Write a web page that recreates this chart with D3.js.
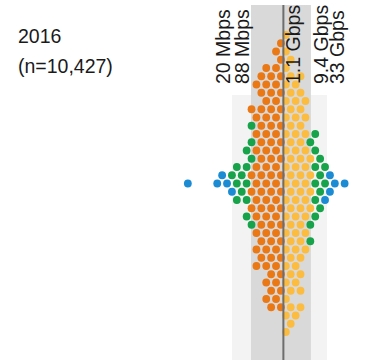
<!DOCTYPE html>
<html><head><meta charset="utf-8">
<script src="https://cdn.jsdelivr.net/npm/d3@7"></script>
<style>html,body{margin:0;padding:0;background:#fff;} svg{display:block;}</style>
</head><body><svg id="chart" width="365" height="360"></svg>
<script>
// ---- data ----
const yearLabel = "2016";
const sampleLabel = "(n=10,427)";
const thresholdValues = [20e6, 88e6, 1.1e9, 9.4e9, 33e9];
const thresholdLabels = ["20 Mbps", "88 Mbps", "1.1 Gbps", "9.4 Gbps", "33 Gbps"];
const groups = ["blueL", "greenL", "orange", "yellow", "greenR", "blueR"];
const groupNames = ["< 20 Mbps", "20–88 Mbps", "88 Mbps–1.1 Gbps", "1.1–9.4 Gbps", "9.4–33 Gbps", "> 33 Gbps"];
// dots per swarm row (top to bottom)
const rowOrange = [0,1,1,1,2,3,3,3,2,4,3,3,3,3,3,3,3,4,3,4,3,4,3,3,3,3,3,3,3,2,2,2,2,2,0,0,0];
const rowYellow = [1,0,1,1,1,2,2,2,3,2,3,2,3,2,3,3,3,3,3,3,3,3,3,2,3,2,3,2,2,2,2,2,1,2,2,1,1];
const rowGreenL = [0,0,0,0,0,0,0,0,0,0,0,1,0,1,1,1,2,2,2,1,2,0,1,1,0,0,0,0,0,0,0,0,0,0,0,0,0];
const rowGreenR = [0,0,0,0,0,0,0,0,0,0,0,0,1,1,1,1,2,1,2,1,1,1,1,1,0,1,0,0,0,0,0,0,0,0,0,0,0];
const rowBlueL  = [0,0,0,0,0,0,0,0,0,0,0,0,0,0,0,0,0,1,3,1,0,0,0,0,0,0,0,0,0,0,0,0,0,0,0,0,0];
const rowBlueR  = [0,0,0,0,0,0,0,0,0,0,0,0,0,0,0,0,0,1,2,1,1,0,0,0,0,0,0,0,0,0,0,0,0,0,0,0,0];
const rowGapL   = [0,0,0,0,0,0,0,0,0,0,0,0,0,0,0,0,0,0,2,0,0,0,0,0,0,0,0,0,0,0,0,0,0,0,0,0,0];

// ---- chart ----
const svg = d3.select("#chart");
const H = 360;
const x = d3.scaleLog().domain([thresholdValues[0], thresholdValues[4]]).range([232, 327]);
const med = x(thresholdValues[2]);
const slot = d3.scaleLinear().domain([0, 1]).range([med, med + 9.8]);
const y = d3.scaleLinear().domain([0, rowOrange.length - 1]).range([35, 332]);
const color = d3.scaleOrdinal().domain(groups)
  .range(["#1b8bd4", "#16a34a", "#ea7815", "#fcbc40", "#16a34a", "#1b8bd4"]);

// bands
svg.append("rect").attr("x", x(thresholdValues[0])).attr("y", 95)
  .attr("width", x(thresholdValues[4]) - x(thresholdValues[0])).attr("height", H - 95)
  .attr("fill", "#f3f3f3");
svg.append("rect").attr("x", x(thresholdValues[1])).attr("y", 5)
  .attr("width", x(thresholdValues[3]) - x(thresholdValues[1])).attr("height", H - 5)
  .attr("fill", "#d9d9d9");

// dots
const dots = [];
rowOrange.forEach((_, r) => {
  const par = r % 2 ? 0.5 : 0;
  let k = 0;
  const left = [];
  for (let i = 0; i < rowOrange[r]; i++) left.push("orange");
  for (let i = 0; i < rowGreenL[r]; i++) left.push("greenL");
  for (let i = 0; i < rowBlueL[r]; i++) left.push("blueL");
  left.forEach((g, i) => {
    if (g === "blueL" && i === left.length - 1 && rowGapL[r] > 0) k += rowGapL[r];
    dots.push({ row: r, s: -0.75 + par - k, g });
    k++;
  });
  k = 0;
  const right = [];
  for (let i = 0; i < rowYellow[r]; i++) right.push("yellow");
  for (let i = 0; i < rowGreenR[r]; i++) right.push("greenR");
  for (let i = 0; i < rowBlueR[r]; i++) right.push("blueR");
  right.forEach(g => { dots.push({ row: r, s: 0.25 + par + k, g }); k++; });
});

svg.append("g").selectAll("circle").data(dots).join("circle")
  .attr("cx", d => slot(d.s)).attr("cy", d => y(d.row)).attr("r", 3.9)
  .attr("fill", d => color(d.g));

// median line
svg.append("line").attr("x1", med).attr("x2", med).attr("y1", 5).attr("y2", H)
  .attr("stroke", "#6e6e6e").attr("stroke-width", 2);

// threshold labels
svg.append("g").selectAll("text").data(thresholdValues).join("text")
  .attr("transform", (v, i) => {
    const bx = i < 2 ? x(v) - 2 : x(v) + 17;
    return `translate(${bx},84) rotate(-90)`;
  })
  .attr("font-family", "'Liberation Sans', Arial, sans-serif")
  .attr("font-size", 19.5).attr("fill", "#1a1a1a")
  .text((v, i) => thresholdLabels[i]);

// title
svg.append("text").attr("x", 18).attr("y", 43)
  .attr("font-family", "'Liberation Sans', Arial, sans-serif")
  .attr("font-size", 19.5).attr("fill", "#1a1a1a").text(yearLabel);
svg.append("text").attr("x", 18).attr("y", 73)
  .attr("font-family", "'Liberation Sans', Arial, sans-serif")
  .attr("font-size", 19.5).attr("fill", "#1a1a1a").text(sampleLabel);
</script>
</body></html>
